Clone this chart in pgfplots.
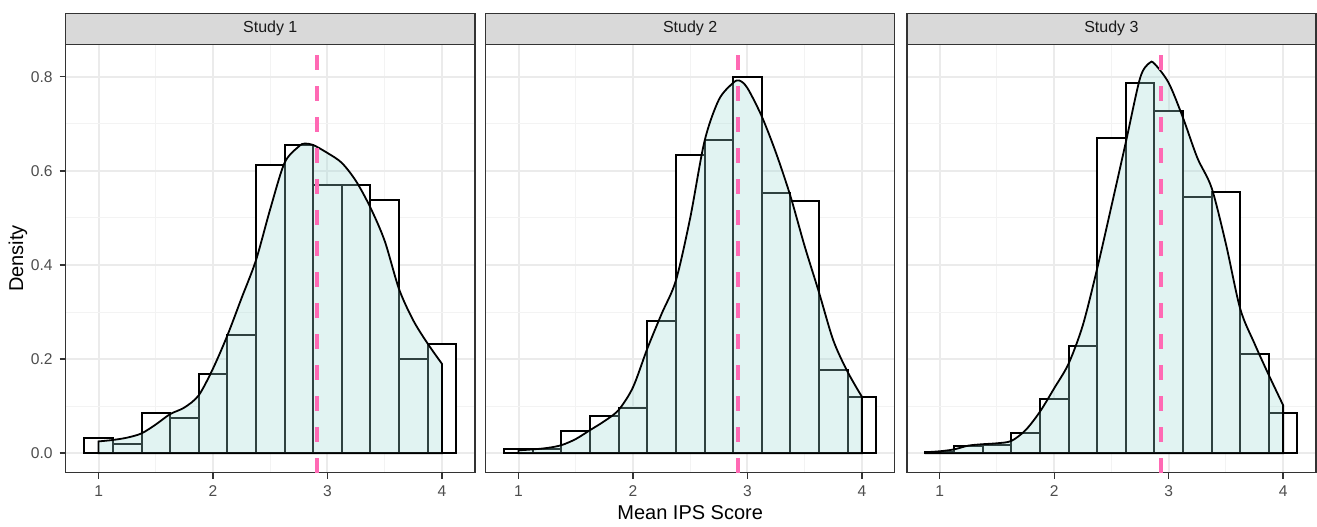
\documentclass[border=0pt]{standalone}
\usepackage{pgfplots}
\pgfplotsset{compat=1.18}
\usepackage{fontspec}
\setmainfont{Liberation Sans}

\definecolor{gtwenty}{HTML}{333333}
\definecolor{gthirty}{HTML}{4D4D4D}
\definecolor{gstrip}{HTML}{D9D9D9}
\definecolor{ggrid}{HTML}{EBEBEB}
\definecolor{ggridminor}{HTML}{F3F3F3}
\definecolor{dfill}{HTML}{9EDAD4}
\definecolor{meanpink}{HTML}{FF69B4}

\pgfplotsset{
  facet/.style={
    width=204.6pt, height=214.2pt, scale only axis,
    xmin=0.7125, xmax=4.2875, ymin=-0.0414, ymax=0.869,
    xtick={1,2,3,4}, xticklabels={1,2,3,4},
    ytick={0,0.2,0.4,0.6,0.8},
    minor xtick={1.5,2.5,3.5}, minor ytick={0.1,0.3,0.5,0.7},
    grid=both,
    major grid style={line width=1pt, draw=ggrid},
    minor grid style={line width=0.5pt, draw=ggridminor},
    axis line style={draw=gtwenty, line width=0.7pt},
    tick pos=left, tick align=outside,
    major tick length=3pt, minor tick length=0pt,
    tick style={draw=gtwenty, line width=0.7pt},
    tick label style={font=\fontsize{7.8}{9}\selectfont, text=gthirty},
  },
  hist/.style={ybar interval, fill=white, draw=black, line width=1pt},
  dens/.style={draw=black, line width=0.9pt, fill=dfill, fill opacity=0.3, smooth},
  meanline/.style={meanpink, line width=2pt, dash pattern=on 7.5pt off 8pt},
}

\begin{document}
\begin{tikzpicture}
\path (-32.85pt,-24.15pt) rectangle (625.6pt,236.35pt);

% Study 1
\begin{axis}[facet, name=p1, at={(0,0)}, anchor=south west,
  yticklabels={0.0,0.2,0.4,0.6,0.8}]
\addplot[hist] coordinates {(0.875,0.032) (1.125,0.020) (1.375,0.085) (1.625,0.074)
  (1.875,0.169) (2.125,0.252) (2.375,0.612) (2.625,0.654) (2.875,0.569) (3.125,0.569)
  (3.375,0.538) (3.625,0.200) (3.875,0.232) (4.125,0)};
\addplot[dens] coordinates {(1.0,0.025) (1.125,0.028) (1.25,0.033) (1.375,0.042)
  (1.5,0.061) (1.625,0.083) (1.75,0.097) (1.875,0.123) (2.0,0.18) (2.125,0.25)
  (2.25,0.33) (2.375,0.41) (2.5,0.519) (2.625,0.617) (2.75,0.652) (2.8,0.658)
  (2.875,0.655) (3.0,0.638) (3.125,0.617) (3.25,0.578) (3.375,0.522) (3.5,0.451)
  (3.625,0.349) (3.75,0.282) (3.875,0.233) (4.0,0.19)} \closedcycle;
\addplot[meanline] coordinates {(2.91,-0.0414) (2.91,0.869)};
\end{axis}

% Study 2
\begin{axis}[facet, name=p2, at={(210pt,0)}, anchor=south west,
  yticklabels={}, y tick style={draw=none}]
\addplot[hist] coordinates {(0.875,0.008) (1.125,0.008) (1.375,0.048) (1.625,0.080)
  (1.875,0.097) (2.125,0.281) (2.375,0.633) (2.625,0.665) (2.875,0.800) (3.125,0.554)
  (3.375,0.537) (3.625,0.176) (3.875,0.120) (4.125,0)};
\addplot[dens] coordinates {(1.0,0.006) (1.125,0.008) (1.25,0.011) (1.375,0.017)
  (1.5,0.03) (1.625,0.049) (1.75,0.068) (1.875,0.092) (2.0,0.14) (2.125,0.222)
  (2.25,0.296) (2.375,0.367) (2.5,0.5) (2.625,0.663) (2.75,0.751) (2.875,0.787)
  (2.93,0.792) (3.0,0.776) (3.125,0.716) (3.25,0.638) (3.375,0.547) (3.5,0.44)
  (3.625,0.342) (3.75,0.24) (3.875,0.173) (4.0,0.12)} \closedcycle;
\addplot[meanline] coordinates {(2.92,-0.0414) (2.92,0.869)};
\end{axis}

% Study 3
\begin{axis}[facet, name=p3, at={(420.65pt,0)}, anchor=south west,
  yticklabels={}, y tick style={draw=none}]
\addplot[hist] coordinates {(0.875,0.003) (1.125,0.016) (1.375,0.018) (1.625,0.042)
  (1.875,0.115) (2.125,0.228) (2.375,0.670) (2.625,0.787) (2.875,0.727) (3.125,0.545)
  (3.375,0.555) (3.625,0.211) (3.875,0.085) (4.125,0)};
\addplot[dens] coordinates {(0.875,0.002) (1.0,0.004) (1.125,0.008) (1.25,0.016)
  (1.375,0.019) (1.5,0.021) (1.625,0.026) (1.75,0.049) (1.875,0.088) (2.0,0.138)
  (2.125,0.19) (2.25,0.272) (2.375,0.392) (2.5,0.525) (2.625,0.66) (2.75,0.797)
  (2.83,0.829) (2.875,0.828) (3.0,0.787) (3.125,0.713) (3.25,0.628) (3.375,0.564)
  (3.5,0.445) (3.625,0.307) (3.75,0.233) (3.875,0.166) (4.0,0.102)} \closedcycle;
\addplot[meanline] coordinates {(2.934,-0.0414) (2.934,0.869)};
\end{axis}

% facet strips
\foreach \p/\t in {p1/Study 1, p2/Study 2, p3/Study 3} {
  \draw[fill=gstrip, draw=gtwenty, line width=0.7pt]
    (\p.north west) rectangle ([yshift=15.5pt]\p.north east);
  \node[font=\fontsize{8}{9.6}\selectfont, text=black!90] at ([yshift=7.75pt]\p.north) {\t};
}

\node[rotate=90, font=\fontsize{10}{12}\selectfont] at ([xshift=-23.9pt]p1.west) {Density};
\node[anchor=base, font=\fontsize{10}{12}\selectfont] at ([yshift=-23.3pt]p2.south) {Mean IPS Score};
\end{tikzpicture}
\end{document}
